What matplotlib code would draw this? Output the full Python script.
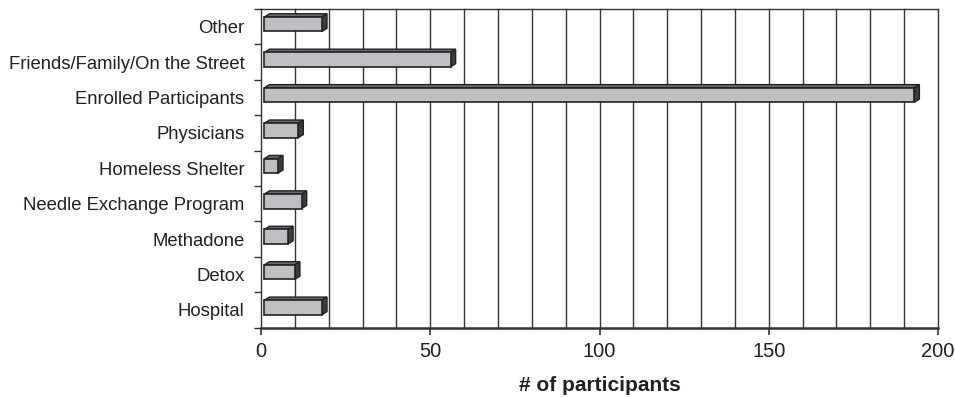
import matplotlib
matplotlib.use("Agg")
import matplotlib.pyplot as plt
from matplotlib.patches import Polygon, Rectangle

plt.rcParams['font.family'] = ['Liberation Sans', 'DejaVu Sans']

categories = ["Other", "Friends/Family/On the Street", "Enrolled Participants",
              "Physicians", "Homeless Shelter", "Needle Exchange Program",
              "Methadone", "Detox", "Hospital"]
values = [18, 56, 193, 11, 5, 12, 8, 10, 18]
xticks = [0, 50, 100, 150, 200]
xlabel = "# of participants"

TXT = "#231f20"
fig = plt.figure(figsize=(9.55, 3.97), dpi=100)
ax = fig.add_axes([261/955, 1-327.7/397, (938-261)/955, (327.7-9)/397])

n = len(categories)
ax.set_xlim(0, 200)
ax.set_ylim(-0.5, n-0.5)

# gridlines
for g in range(10, 201, 10):
    ax.axvline(g, color="#333333", lw=1.0, zorder=1, clip_on=False)

x0 = 1.0
dx = 1.5
dy = 0.09
h = 0.41
for i, (cat, v) in enumerate(zip(categories, values)):
    c = n - 1 - i + 0.07
    yb, yt = c - h/2, c + h/2
    ax.add_patch(Polygon([(x0, yt), (v, yt), (v+dx, yt+dy), (x0+dx, yt+dy)],
                         closed=True, facecolor="#6b6b6d", edgecolor="#222222", lw=1.0, zorder=3))
    ax.add_patch(Polygon([(v, yb), (v, yt), (v+dx, yt+dy), (v+dx, yb+dy)],
                         closed=True, facecolor="#3c3c3e", edgecolor="#222222", lw=1.0, zorder=3))
    ax.add_patch(Rectangle((x0, yb), v - x0, h, facecolor="#bebfc2",
                           edgecolor="#222222", lw=1.2, zorder=4))

ax.set_xticks(xticks)
ax.set_xticklabels([str(t) for t in xticks], fontsize=14.5, color=TXT)
ax.tick_params(axis='x', direction='out', length=5, width=1.2, color="#333333", pad=5)

# y ticks at boundaries, labels at centers
ax.set_yticks([k + 0.5 for k in range(-1, n)])
ax.set_yticklabels([])
ax.tick_params(axis='y', which='major', direction='out', length=5, width=1.0, color="#333333")
ax.set_yticks(range(n), minor=True)
ax.set_yticklabels(categories[::-1], minor=True, fontsize=13.3, color=TXT)
ax.tick_params(axis='y', which='minor', length=0, pad=12)

for s in ['top', 'left']:
    ax.spines[s].set_color("#333333")
    ax.spines[s].set_linewidth(1.0)
ax.spines['bottom'].set_color("#333333")
ax.spines['bottom'].set_linewidth(1.8)
ax.spines['right'].set_visible(False)

ax.set_xlabel(xlabel, fontsize=15, fontweight='bold', color=TXT, labelpad=11)

fig.savefig("out.png", dpi=100)
